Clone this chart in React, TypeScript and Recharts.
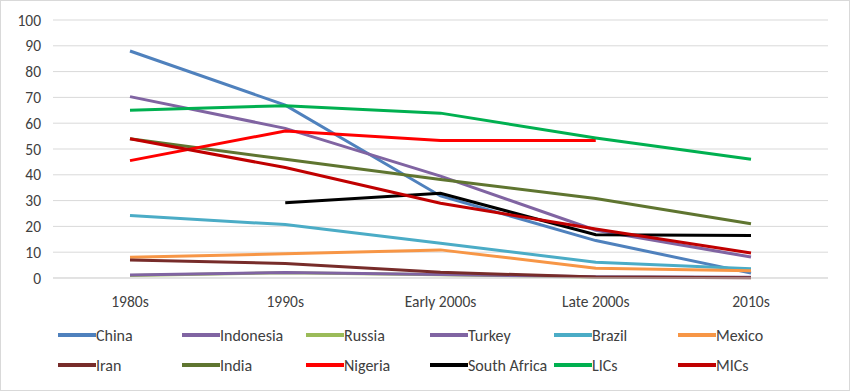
import { LineChart, Line, XAxis, YAxis, CartesianGrid } from "recharts";

const WIDTH = 850;
const HEIGHT = 391;
const FONT = "Calibri, Carlito, 'Liberation Sans Narrow', 'Open Sans', sans-serif";
const TEXT_COLOR = "#404040";
const GRID_COLOR = "#d9d9d9";

const periods = ["1980s", "1990s", "Early 2000s", "Late 2000s", "2010s"];
const yTicks = [0, 10, 20, 30, 40, 50, 60, 70, 80, 90, 100];

const china = [88, 67, 31.8, 14.5, 1.9];
const indonesia = [70.3, 58, 39.5, 18.5, 8.1];
const russia = [1, 2, 1.3, 0.3, 0.2];
const turkey = [1.2, 2.1, 1.4, 0.5, 0.3];
const brazil = [24.2, 20.7, 13.5, 6.1, 3.6];
const mexico = [8, 9.4, 10.9, 3.8, 2.8];
const iran = [7, 5.6, 2.2, 0.4, 0.1];
const india = [54, 46, 38.2, 30.8, 21];
const nigeria = [45.5, 57, 53.3, 53.3, null];
const southAfrica = [null, 29.2, 32.8, 16.8, 16.5];
const lics = [65, 66.8, 63.9, 54.3, 46];
const mics = [54, 42.8, 29, 19, 9.7];

const seriesList = [
  { key: "China", values: china, color: "#4F81BD" },
  { key: "Indonesia", values: indonesia, color: "#8064A2" },
  { key: "Russia", values: russia, color: "#9BBB59" },
  { key: "Turkey", values: turkey, color: "#8064A2" },
  { key: "Brazil", values: brazil, color: "#4BACC6" },
  { key: "Mexico", values: mexico, color: "#F79646" },
  { key: "Iran", values: iran, color: "#772C2A" },
  { key: "India", values: india, color: "#5F7530" },
  { key: "Nigeria", values: nigeria, color: "#FF0000" },
  { key: "South Africa", values: southAfrica, color: "#000000" },
  { key: "LICs", values: lics, color: "#00B050" },
  { key: "MICs", values: mics, color: "#C00000" },
];

const data = periods.map((period, i) => {
  const row: Record<string, string | number | null> = { period };
  seriesList.forEach((s) => {
    row[s.key] = s.values[i];
  });
  return row;
});

function LegendBox() {
  return (
    <div
      style={{
        position: "absolute",
        left: 57,
        top: 324,
        display: "grid",
        gridTemplateColumns: "repeat(6, 124px)",
        rowGap: 10,
        fontFamily: FONT,
        fontSize: 16,
        color: TEXT_COLOR,
      }}
    >
      {seriesList.map((s) => (
        <div key={s.key} style={{ display: "flex", alignItems: "center", height: 20, whiteSpace: "nowrap" }}>
          <span style={{ display: "inline-block", width: 38, height: 4, background: s.color }} />
          <span>{s.key}</span>
        </div>
      ))}
    </div>
  );
}

export default function App() {
  return (
    <div
      style={{
        position: "absolute",
        left: 0,
        top: 0,
        width: WIDTH,
        height: HEIGHT,
        border: "1px solid #d9d9d9",
        boxSizing: "border-box",
        background: "#fff",
      }}
    >
      <LineChart
        width={WIDTH - 2}
        height={HEIGHT - 2}
        data={data}
        margin={{ top: 19, right: 21, bottom: 82, left: 7 }}
      >
        <CartesianGrid vertical={false} stroke={GRID_COLOR} strokeWidth={1} />
        <XAxis
          dataKey="period"
          axisLine={{ stroke: GRID_COLOR }}
          tickLine={false}
          padding={{ left: 77, right: 77 }}
          tick={{ fill: TEXT_COLOR, fontSize: 15.5, fontFamily: FONT }}
          tickMargin={12}
          interval={0}
        />
        <YAxis
          domain={[0, 100]}
          ticks={yTicks}
          interval={0}
          axisLine={false}
          tickLine={false}
          width={45}
          tickMargin={6}
          tick={{ fill: TEXT_COLOR, fontSize: 15.5, fontFamily: FONT }}
        />
        {seriesList.map((s) => (
          <Line
            key={s.key}
            dataKey={s.key}
            stroke={s.color}
            strokeWidth={3}
            dot={false}
            type="linear"
            connectNulls={false}
            isAnimationActive={false}
          />
        ))}
      </LineChart>
      <LegendBox />
    </div>
  );
}
